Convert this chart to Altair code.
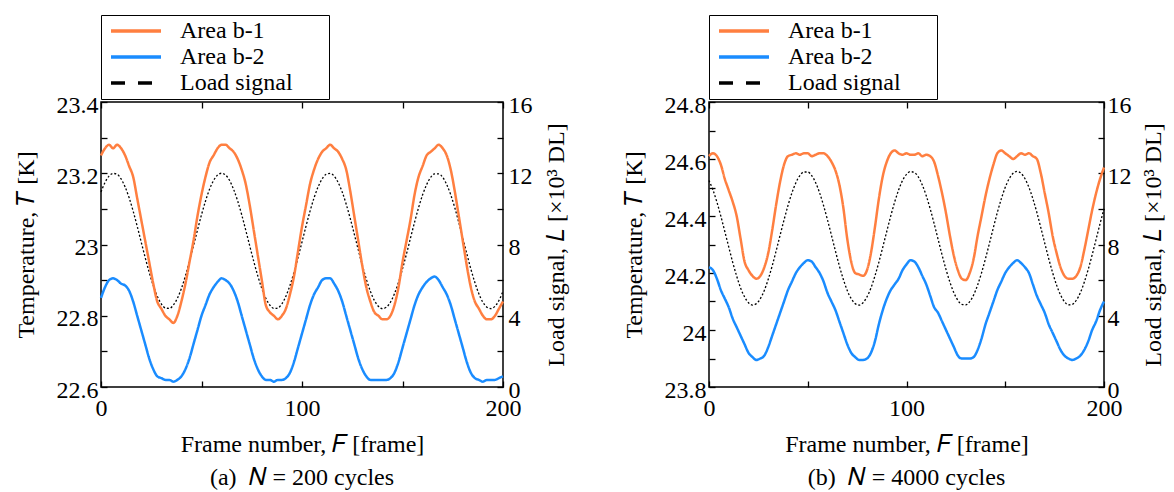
import altair as alt
import pandas as pd

# Frame numbers shared by every series (every 2nd frame)
frames = list(range(0, 201, 2))

# (a) N = 200 cycles: temperature [K] and load signal [x10^3 DL]
a_b1 = [23.25, 23.27, 23.28, 23.27, 23.28, 23.27, 23.25, 23.22, 23.19, 23.13,
        23.07, 23.01, 22.95, 22.89, 22.84, 22.82, 22.80, 22.79, 22.78, 22.80,
        22.84, 22.89, 22.95, 23.01, 23.08, 23.14, 23.19, 23.23, 23.25, 23.27,
        23.28, 23.28, 23.27, 23.26, 23.24, 23.21, 23.17, 23.11, 23.04, 22.97,
        22.90, 22.83, 22.81, 22.80, 22.79, 22.80, 22.82, 22.86, 22.91, 22.98,
        23.05, 23.11, 23.17, 23.21, 23.24, 23.26, 23.27, 23.28, 23.27, 23.26,
        23.24, 23.21, 23.15, 23.08, 23.01, 22.94, 22.88, 22.84, 22.81, 22.80,
        22.79, 22.79, 22.80, 22.83, 22.88, 22.95, 23.01, 23.07, 23.14, 23.19,
        23.22, 23.25, 23.26, 23.27, 23.28, 23.27, 23.25, 23.21, 23.15, 23.08,
        23.01, 22.94, 22.88, 22.84, 22.82, 22.80, 22.79, 22.79, 22.80, 22.82,
        22.84]
a_b2 = [22.85, 22.88, 22.90, 22.905, 22.90, 22.89, 22.885, 22.87, 22.84, 22.80,
        22.76, 22.72, 22.68, 22.65, 22.63, 22.625, 22.62, 22.62, 22.615, 22.62,
        22.63, 22.65, 22.68, 22.72, 22.76, 22.80, 22.83, 22.86, 22.88, 22.895,
        22.905, 22.90, 22.89, 22.87, 22.84, 22.80, 22.76, 22.72, 22.68, 22.65,
        22.63, 22.62, 22.62, 22.615, 22.62, 22.62, 22.625, 22.64, 22.67, 22.71,
        22.75, 22.79, 22.83, 22.86, 22.88, 22.90, 22.905, 22.905, 22.89, 22.87,
        22.84, 22.80, 22.76, 22.72, 22.68, 22.65, 22.63, 22.62, 22.62, 22.62,
        22.62, 22.62, 22.625, 22.64, 22.67, 22.71, 22.75, 22.79, 22.83, 22.86,
        22.88, 22.895, 22.905, 22.91, 22.90, 22.88, 22.86, 22.83, 22.79, 22.75,
        22.71, 22.67, 22.64, 22.625, 22.62, 22.615, 22.62, 22.62, 22.62, 22.625,
        22.63]
a_load = [10.95, 11.48, 11.84, 11.99, 11.94, 11.68, 11.23, 10.62, 9.87, 9.03,
          8.14, 7.26, 6.43, 5.70, 5.10, 4.67, 4.44, 4.41, 4.60, 4.98,
          5.53, 6.24, 7.05, 7.92, 8.81, 9.67, 10.44, 11.10, 11.59, 11.90,
          12.00, 11.90, 11.59, 11.09, 10.44, 9.67, 8.81, 7.92, 7.05, 6.24,
          5.53, 4.98, 4.60, 4.41, 4.44, 4.67, 5.10, 5.70, 6.43, 7.26,
          8.14, 9.03, 9.87, 10.62, 11.23, 11.68, 11.94, 11.99, 11.84, 11.48,
          10.95, 10.26, 9.46, 8.59, 7.70, 6.84, 6.05, 5.38, 4.86, 4.53,
          4.40, 4.48, 4.76, 5.24, 5.87, 6.63, 7.48, 8.37, 9.25, 10.07,
          10.79, 11.36, 11.77, 11.97, 11.97, 11.77, 11.36, 10.79, 10.07, 9.24,
          8.37, 7.48, 6.63, 5.87, 5.23, 4.76, 4.48, 4.40, 4.53, 4.86,
          5.38]

# (b) N = 4000 cycles
b_b1 = [24.61, 24.62, 24.61, 24.58, 24.53, 24.49, 24.45, 24.40, 24.32, 24.24,
        24.21, 24.19, 24.18, 24.19, 24.22, 24.27, 24.35, 24.44, 24.52, 24.58,
        24.61, 24.615, 24.62, 24.615, 24.62, 24.62, 24.61, 24.615, 24.62, 24.62,
        24.61, 24.59, 24.56, 24.51, 24.43, 24.32, 24.24, 24.20, 24.195, 24.19,
        24.21, 24.27, 24.36, 24.46, 24.54, 24.59, 24.62, 24.63, 24.62, 24.615,
        24.62, 24.615, 24.615, 24.62, 24.61, 24.615, 24.61, 24.59, 24.54, 24.48,
        24.41, 24.33, 24.26, 24.21, 24.18, 24.175, 24.20, 24.25, 24.33, 24.40,
        24.47, 24.53, 24.58, 24.62, 24.63, 24.62, 24.61, 24.60, 24.61, 24.62,
        24.615, 24.62, 24.61, 24.60, 24.55, 24.48, 24.41, 24.33, 24.27, 24.22,
        24.19, 24.18, 24.18, 24.19, 24.22, 24.28, 24.35, 24.42, 24.48, 24.53,
        24.57]
b_b2 = [24.22, 24.21, 24.18, 24.14, 24.11, 24.08, 24.04, 24.01, 23.98, 23.95,
        23.92, 23.905, 23.895, 23.90, 23.91, 23.94, 23.98, 24.02, 24.06, 24.10,
        24.14, 24.17, 24.20, 24.22, 24.235, 24.245, 24.24, 24.22, 24.20, 24.17,
        24.13, 24.10, 24.07, 24.03, 23.99, 23.95, 23.92, 23.905, 23.895, 23.895,
        23.90, 23.92, 23.96, 24.02, 24.07, 24.11, 24.14, 24.16, 24.18, 24.21,
        24.23, 24.245, 24.24, 24.22, 24.19, 24.16, 24.12, 24.08, 24.06, 24.03,
        24.00, 23.97, 23.94, 23.91, 23.90, 23.90, 23.90, 23.905, 23.93, 23.97,
        24.02, 24.06, 24.10, 24.14, 24.17, 24.20, 24.22, 24.235, 24.245, 24.235,
        24.22, 24.20, 24.16, 24.12, 24.09, 24.06, 24.02, 23.99, 23.96, 23.93,
        23.91, 23.90, 23.895, 23.90, 23.91, 23.93, 23.96, 24.00, 24.03, 24.07,
        24.10]
b_load = [11.59, 11.06, 10.38, 9.59, 8.73, 7.86, 7.00, 6.23, 5.56, 5.06,
          4.73, 4.60, 4.68, 4.96, 5.42, 6.05, 6.80, 7.64, 8.52, 9.38,
          10.19, 10.90, 11.47, 11.87, 12.07, 12.07, 11.87, 11.47, 10.90, 10.19,
          9.38, 8.52, 7.64, 6.80, 6.05, 5.42, 4.96, 4.68, 4.60, 4.73,
          5.06, 5.56, 6.23, 7.00, 7.86, 8.73, 9.59, 10.38, 11.06, 11.59,
          11.94, 12.09, 12.04, 11.79, 11.34, 10.74, 10.00, 9.17, 8.29, 7.42,
          6.60, 5.88, 5.29, 4.87, 4.64, 4.61, 4.79, 5.17, 5.72, 6.41,
          7.21, 8.07, 8.95, 9.80, 10.56, 11.21, 11.69, 12.00, 12.10, 12.00,
          11.69, 11.21, 10.56, 9.80, 8.95, 8.07, 7.21, 6.41, 5.72, 5.17,
          4.79, 4.61, 4.64, 4.87, 5.29, 5.88, 6.60, 7.42, 8.29, 9.17,
          10.00]

# Axis tick positions
frame_ticks = [0, 50, 100, 150, 200]
a_temp_ticks = [22.6, 22.7, 22.8, 22.9, 23.0, 23.1, 23.2, 23.3, 23.4]
b_temp_ticks = [23.8, 23.9, 24.0, 24.1, 24.2, 24.3, 24.4, 24.5, 24.6, 24.7, 24.8]
load_ticks = [0, 2, 4, 6, 8, 10, 12, 14, 16]

SERIES = ["Area b-1", "Area b-2", "Load signal"]
COLORS = ["#FF7F40", "#1A8CFF", "#000000"]
LEGEND_DASH = [[1, 0], [1, 0], [14, 13]]
FONT = "Liberation Serif"
FS = 24
NB = "\u00a0"
TICK = 6  # inward tick length: axes are shifted inside the frame by this much


def legend():
    # a blank title on the right side only widens the framed box
    return alt.Legend(
        orient="none", legendX=0, legendY=-87,
        title=".", titleOrient="right", titleColor="transparent",
        titleFontSize=FS, titlePadding=26,
        symbolType="M-2.5,0H2.5", symbolSize=400, symbolStrokeWidth=3.5,
        symbolOffset=19, labelOffset=32, labelLimit=500,
        labelFont=FONT, labelFontSize=FS, labelColor="black",
        strokeColor="black", padding=4, rowPadding=2,
        labelExpr=f"(datum.value == 'Load signal' ? '{NB}' : '') + datum.label",
    )


def color_enc():
    return alt.Color("series:N", scale=alt.Scale(domain=SERIES, range=COLORS), legend=legend())


def dash_enc():
    return alt.StrokeDash("series:N", scale=alt.Scale(domain=SERIES, range=LEGEND_DASH), legend=legend())


def axis(**kw):
    base = dict(domain=False, offset=-TICK, tickSize=TICK, labelFont=FONT,
                labelFontSize=FS, titleFont=FONT, titleFontSize=FS)
    base.update(kw)
    return alt.Axis(**base)


def panel(b1, b2, load, temp_ticks, width, caption, r_label_pad, r_title_pad):
    n = len(frames)
    temp_df = pd.DataFrame({
        "frame": frames * 2,
        "temp": b1 + b2,
        "series": ["Area b-1"] * n + ["Area b-2"] * n,
    })
    load_df = pd.DataFrame({"frame": frames, "load": load, "series": ["Load signal"] * n})
    lo, hi = temp_ticks[0], temp_ticks[-1]
    xscale = alt.Scale(domain=[0, 200], nice=False)

    load_line = alt.Chart(load_df).mark_line(
        strokeWidth=1.3, strokeDash=[2, 2], interpolate="monotone"
    ).encode(
        x=alt.X("frame:Q", scale=xscale, axis=axis(
            orient="top", values=frame_ticks, labels=False, title=None)),
        y=alt.Y("load:Q", scale=alt.Scale(domain=[0, 16], nice=False), axis=axis(
            orient="right", values=load_ticks,
            labelExpr="datum.value % 4 == 0 ? datum.label : ''",
            labelPadding=r_label_pad, labelOffset=3,
            title="Load signal, \U0001D43F [\u00d710\u00b3 DL]",
            titleAngle=270, titleBaseline="top", titlePadding=r_title_pad)),
        color=color_enc(),
    )

    temp_lines = alt.Chart(temp_df).mark_line(
        strokeWidth=2.5, interpolate="monotone"
    ).encode(
        x=alt.X("frame:Q", scale=xscale, axis=axis(
            orient="bottom", values=frame_ticks,
            labelExpr="datum.value % 100 == 0 ? datum.label : ''",
            labelFlush=False, labelPadding=9,
            title="Frame number, \U0001D439 [frame]", titlePadding=12)),
        y=alt.Y("temp:Q", scale=alt.Scale(domain=[lo, hi], nice=False), axis=axis(
            orient="left", values=temp_ticks,
            labelExpr="round(datum.value * 10) % 2 == 0 ? format(datum.value, '~g') : ''",
            labelPadding=3, labelOffset=3,
            title="Temperature, \U0001D447 [K]", titlePadding=18)),
        color=color_enc(),
        strokeDash=dash_enc(),
    )

    return alt.layer(load_line, temp_lines).resolve_scale(
        y="independent"
    ).resolve_axis(x="independent").properties(
        width=width, height=285,
        title=alt.TitleParams(caption, orient="bottom", offset=10),
    )


left = panel(a_b1, a_b2, a_load, a_temp_ticks, 402,
             f"(a){NB}{NB}\U0001D441 = 200 cycles", 5, 12)
right = panel(b_b1, b_b2, b_load, b_temp_ticks, 395,
              f"(b){NB}{NB}\U0001D441 = 4000 cycles", 3, 10)

chart = alt.hconcat(left, right, spacing=52).resolve_scale(
    color="independent", strokeDash="independent"
).resolve_legend(color="independent", strokeDash="independent").properties(
    padding={"left": 13, "top": 13, "right": 4, "bottom": 0}
).configure(
    font=FONT
).configure_view(
    stroke="black", strokeWidth=1.5
).configure_axis(
    labelFont=FONT, titleFont=FONT, labelFontSize=FS, titleFontSize=FS,
    titleFontWeight="normal", labelColor="black", titleColor="black",
    tickColor="black", tickWidth=1.3, grid=False,
).configure_legend(
    labelFont=FONT, labelFontSize=FS
).configure_title(
    font=FONT, fontSize=FS, fontWeight="normal", color="black", anchor="middle"
)

chart.save("out.html", embed_options={"renderer": "svg", "actions": False})
